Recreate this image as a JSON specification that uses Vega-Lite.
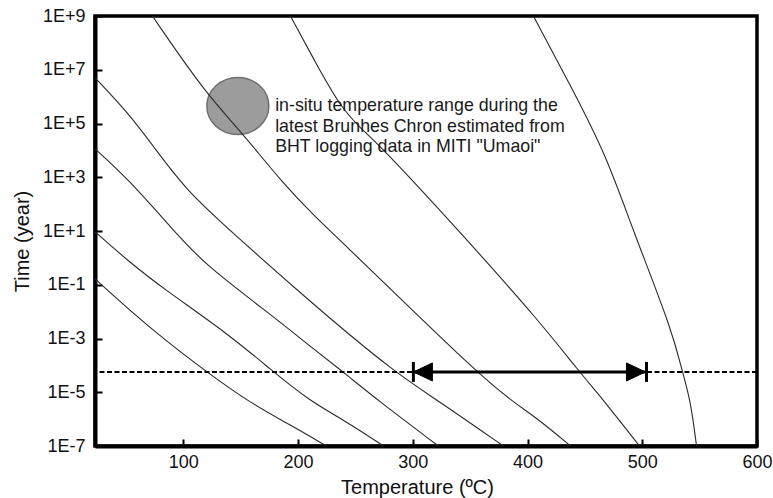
{
  "$schema": "https://vega.github.io/schema/vega-lite/v6.json",
  "width": 662,
  "height": 430,
  "autosize": "none",
  "padding": {"left": 95, "top": 16, "right": 16, "bottom": 52},
  "background": "white",
  "config": {
    "view": {"stroke": "black", "strokeWidth": 3.5},
    "font": "Liberation Sans",
    "axis": {"grid": false}
  },
  "datasets": {
    "curves": [
      {"curve": "A", "T": 23.3, "t": 0.162},
      {"curve": "A", "T": 52, "t": 0.0126},
      {"curve": "A", "T": 81.7, "t": 0.00105},
      {"curve": "A", "T": 119.2, "t": 6.17e-5},
      {"curve": "A", "T": 158.4, "t": 3.98e-6},
      {"curve": "A", "T": 193.3, "t": 6.03e-7},
      {"curve": "A", "T": 224.7, "t": 1e-7},
      {"curve": "B", "T": 23.3, "t": 9.12},
      {"curve": "B", "T": 52, "t": 0.759},
      {"curve": "B", "T": 81.7, "t": 0.0759},
      {"curve": "B", "T": 139.2, "t": 0.00148},
      {"curve": "B", "T": 177.6, "t": 6.17e-5},
      {"curve": "B", "T": 209, "t": 5.13e-6},
      {"curve": "B", "T": 245.6, "t": 6.6e-7},
      {"curve": "B", "T": 274.4, "t": 1e-7},
      {"curve": "C", "T": 23.3, "t": 11220},
      {"curve": "C", "T": 52, "t": 851},
      {"curve": "C", "T": 90.4, "t": 11.7},
      {"curve": "C", "T": 119.2, "t": 0.543},
      {"curve": "C", "T": 168.9, "t": 0.0136},
      {"curve": "C", "T": 216.8, "t": 3.16e-4},
      {"curve": "C", "T": 240.4, "t": 5.25e-5},
      {"curve": "C", "T": 269.1, "t": 5.13e-6},
      {"curve": "C", "T": 322.3, "t": 1e-7},
      {"curve": "D", "T": 23.3, "t": 4900000},
      {"curve": "D", "T": 52, "t": 245000},
      {"curve": "D", "T": 75.6, "t": 11220},
      {"curve": "D", "T": 101.7, "t": 363},
      {"curve": "D", "T": 139.2, "t": 11.7},
      {"curve": "D", "T": 216.8, "t": 0.0135},
      {"curve": "D", "T": 284.8, "t": 5.25e-5},
      {"curve": "D", "T": 321.4, "t": 5.13e-6},
      {"curve": "D", "T": 379, "t": 1e-7},
      {"curve": "E", "T": 73, "t": 1e9},
      {"curve": "E", "T": 119.2, "t": 1350000},
      {"curve": "E", "T": 151.4, "t": 44670},
      {"curve": "E", "T": 186.3, "t": 617},
      {"curve": "E", "T": 216.8, "t": 28.2},
      {"curve": "E", "T": 228.2, "t": 10},
      {"curve": "E", "T": 275.2, "t": 0.116},
      {"curve": "E", "T": 356.3, "t": 5.25e-5},
      {"curve": "E", "T": 385.1, "t": 5.13e-6},
      {"curve": "E", "T": 410.4, "t": 9.3e-7},
      {"curve": "E", "T": 437.4, "t": 1e-7},
      {"curve": "F", "T": 193.3, "t": 1e9},
      {"curve": "F", "T": 216.8, "t": 13800000},
      {"curve": "F", "T": 237.7, "t": 380000},
      {"curve": "F", "T": 254.3, "t": 67600},
      {"curve": "F", "T": 273.5, "t": 12300},
      {"curve": "F", "T": 338.9, "t": 11.7},
      {"curve": "F", "T": 410.4, "t": 0.00447},
      {"curve": "F", "T": 445.3, "t": 5.6e-5},
      {"curve": "F", "T": 466.2, "t": 5.13e-6},
      {"curve": "F", "T": 497.6, "t": 1e-7},
      {"curve": "G", "T": 405.1, "t": 1e9},
      {"curve": "G", "T": 439.1, "t": 1900000},
      {"curve": "G", "T": 468.8, "t": 6170},
      {"curve": "G", "T": 491.5, "t": 11.7},
      {"curve": "G", "T": 526.3, "t": 0.0019},
      {"curve": "G", "T": 535.1, "t": 5.25e-5},
      {"curve": "G", "T": 542, "t": 5.13e-6},
      {"curve": "G", "T": 547.3, "t": 1e-7}
    ],
    "reference": [{"t": 5.7e-5}],
    "arrow": [{"T": 302, "T2": 503, "t": 5.7e-5}],
    "heads": [
      {"T": 308.8, "t": 5.7e-5, "dir": "left"},
      {"T": 494.5, "t": 5.7e-5, "dir": "right"}
    ],
    "bars": [
      {"T": 300.5, "t": 5.7e-5},
      {"T": 503.7, "t": 5.7e-5}
    ],
    "insitu": [{"T": 147.5, "t": 450000}],
    "note": [
      {"T": 180, "t": 447000, "text": ["in-situ temperature range during the", "latest Brunhes Chron estimated from", "BHT logging data in MITI \"Umaoi\""]}
    ]
  },
  "layer": [
    {
      "data": {"name": "insitu"},
      "mark": {"type": "point", "shape": "M-1,0A1,0.92,0,1,1,1,0A1,0.92,0,1,1,-1,0Z", "filled": true, "fill": "#9c9c9c", "stroke": "#707070", "strokeWidth": 1.5, "opacity": 1, "fillOpacity": 1, "size": 3844},
      "encoding": {
        "x": {
          "field": "T", "type": "quantitative",
          "scale": {"domain": [23, 600], "nice": false, "zero": false},
          "axis": {
            "title": "Temperature (ºC)",
            "values": [100, 200, 300, 400, 500, 600],
            "domainColor": "black", "domainWidth": 4,
            "tickColor": "black", "tickWidth": 2, "tickSize": -7,
            "labelFontSize": 18, "labelColor": "#111", "labelPadding": 14,
            "labelFlush": false, "labelOverlap": false, "labelBound": false,
            "titleFontSize": 20, "titleFontWeight": "normal", "titleColor": "#111",
            "titleX": 322, "titleY": 47, "titleBaseline": "alphabetic", "titleAlign": "center"
          }
        },
        "y": {
          "field": "t", "type": "quantitative",
          "scale": {"type": "log", "domain": [1e-7, 1e9], "nice": false},
          "axis": {
            "title": "Time (year)",
            "values": [1e-7, 1e-5, 0.001, 0.1, 10, 1000, 100000, 10000000, 1000000000],
            "labelExpr": "'1E' + (round(log(datum.value)/LN10) > 0 ? '+' : '') + round(log(datum.value)/LN10)",
            "domainColor": "black", "domainWidth": 4,
            "tickColor": "black", "tickWidth": 2, "tickSize": -7,
            "labelFontSize": 18, "labelColor": "#111", "labelPadding": 17,
            "labelFlush": false, "labelOverlap": false, "labelBound": false,
            "titleFontSize": 20, "titleFontWeight": "normal", "titleColor": "#111",
            "titleX": -73, "titleY": 225, "titleBaseline": "middle", "titleAlign": "center", "titleAngle": -90
          }
        }
      }
    },
    {
      "data": {"name": "curves"},
      "mark": {"type": "line", "interpolate": "basis", "clip": true, "stroke": "#2a2a2a", "strokeWidth": 1.1},
      "encoding": {
        "x": {"field": "T", "type": "quantitative"},
        "y": {"field": "t", "type": "quantitative"},
        "detail": {"field": "curve", "type": "nominal"}
      }
    },
    {
      "data": {"name": "reference"},
      "mark": {"type": "rule", "color": "black", "strokeWidth": 2, "strokeDash": [5, 2.5]},
      "encoding": {
        "y": {"field": "t", "type": "quantitative"}
      }
    },
    {
      "data": {"name": "arrow"},
      "mark": {"type": "rule", "color": "black", "strokeWidth": 3},
      "encoding": {
        "x": {"field": "T", "type": "quantitative"},
        "x2": {"field": "T2"},
        "y": {"field": "t", "type": "quantitative"}
      }
    },
    {
      "data": {"name": "heads"},
      "mark": {"type": "point", "filled": true, "fill": "black", "stroke": "black", "strokeWidth": 1, "opacity": 1, "size": 361},
      "encoding": {
        "x": {"field": "T", "type": "quantitative"},
        "y": {"field": "t", "type": "quantitative"},
        "shape": {
          "field": "dir", "type": "nominal",
          "scale": {"domain": ["left", "right"], "range": ["M-1,0L1,-0.95L1,0.95Z", "M1,0L-1,-0.95L-1,0.95Z"]},
          "legend": null
        }
      }
    },
    {
      "data": {"name": "bars"},
      "mark": {"type": "point", "shape": "M0,-1L0,1", "filled": false, "stroke": "black", "strokeWidth": 3, "opacity": 1, "size": 400},
      "encoding": {
        "x": {"field": "T", "type": "quantitative"},
        "y": {"field": "t", "type": "quantitative"}
      }
    },
    {
      "data": {"name": "note"},
      "mark": {"type": "text", "align": "left", "baseline": "middle", "fontSize": 17.8, "lineHeight": 20.5, "color": "#1a1a1a"},
      "encoding": {
        "x": {"field": "T", "type": "quantitative"},
        "y": {"field": "t", "type": "quantitative"},
        "text": {"field": "text"}
      }
    }
  ]
}
